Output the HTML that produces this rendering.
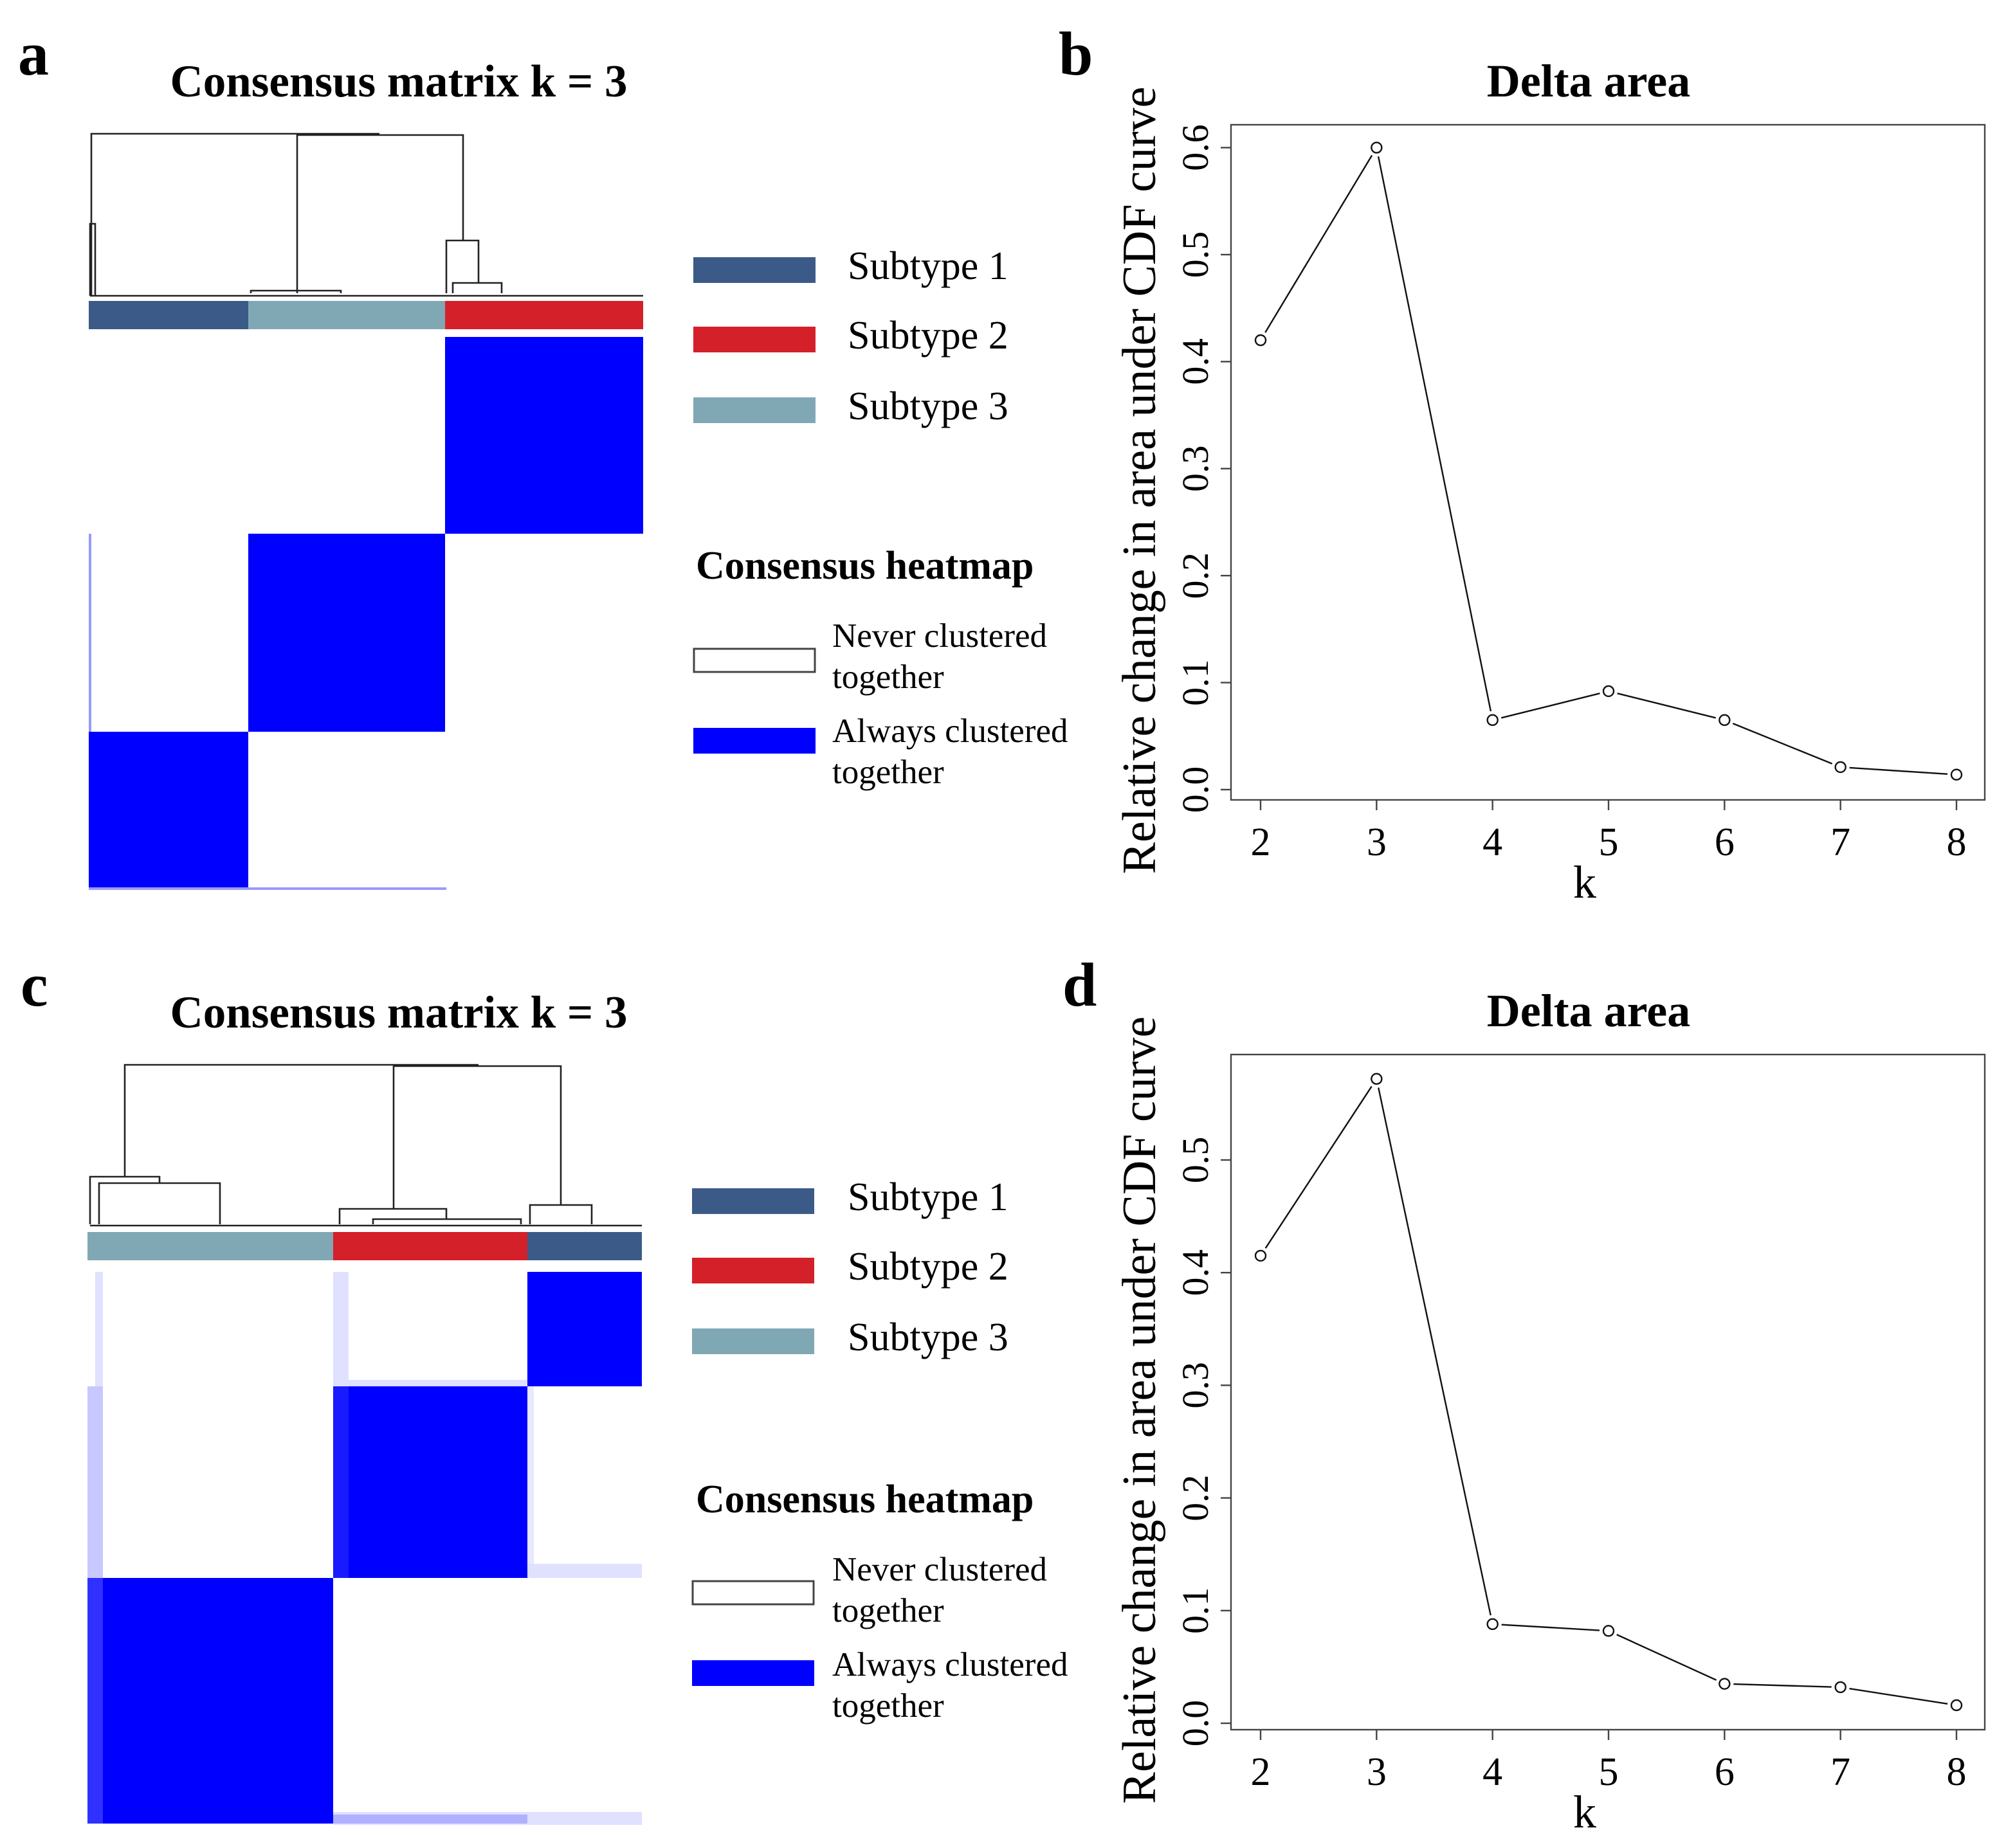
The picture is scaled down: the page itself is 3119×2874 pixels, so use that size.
<!DOCTYPE html>
<html><head><meta charset="utf-8"><style>
html,body{margin:0;padding:0;background:#fff}
svg{display:block}
text{font-family:"Liberation Serif",serif;fill:#000}
.b{font-weight:bold}
</style></head><body>
<svg id="fig" width="3119" height="2874" viewBox="0 0 1559.5 1437" xmlns="http://www.w3.org/2000/svg">
<text class="b" x="14" y="58" font-size="48">a</text>
<text class="b" x="823" y="58" font-size="48">b</text>
<text class="b" x="16" y="782" font-size="48">c</text>
<text class="b" x="826" y="782" font-size="48">d</text>

<!-- Panel a -->
<g>
<text class="b" x="310" y="75" font-size="35.5" text-anchor="middle">Consensus matrix k = 3</text>
<g fill="none" stroke="#222" stroke-width="1.3">
<path d="M71,230 V104 H295"/><path d="M231,228 V105 H360 V187"/>
<path d="M70,230 V174 H74 V230"/>
<path d="M347,228 V187 H372 V220"/><path d="M352,228 V220 H390 V228"/>
<path d="M195,228 V226 H265 V228"/><path d="M70,230 H500"/>
</g>
<rect x="69" y="234" width="124" height="22" fill="#3c5a87"/>
<rect x="193" y="234" width="153" height="22" fill="#80a8b4"/>
<rect x="346" y="234" width="154" height="22" fill="#d42029"/>
<rect x="346" y="262" width="154" height="153" fill="#0000fe"/>
<rect x="193" y="415" width="153" height="154" fill="#0000fe"/>
<rect x="69" y="569" width="124" height="123" fill="#0000fe"/>
<rect x="69" y="415" width="2" height="154" fill="#9999ff"/>
<rect x="69" y="690" width="278" height="2" fill="#9999ff"/>
</g>

<!-- Legend a -->
<g>
<rect x="539" y="200" width="95" height="20" fill="#3c5a87"/>
<rect x="539" y="254" width="95" height="20" fill="#d42029"/>
<rect x="539" y="309" width="95" height="20" fill="#80a8b4"/>
<text x="659" y="217" font-size="31">Subtype 1</text>
<text x="659" y="271" font-size="31">Subtype 2</text>
<text x="659" y="326" font-size="31">Subtype 3</text>
<text class="b" x="541" y="450" font-size="31">Consensus heatmap</text>
<rect x="539.5" y="504.5" width="94" height="18" fill="#fff" stroke="#444" stroke-width="1.5"/>
<rect x="539" y="566" width="95" height="20" fill="#0000fe"/>
<text x="647" y="503" font-size="26.5">Never clustered</text>
<text x="647" y="535" font-size="26.5">together</text>
<text x="647" y="577" font-size="26.5">Always clustered</text>
<text x="647" y="609" font-size="26.5">together</text>
</g>

<!-- Panel c -->
<g>
<text class="b" x="310" y="799" font-size="35.5" text-anchor="middle">Consensus matrix k = 3</text>
<g fill="none" stroke="#222" stroke-width="1.3">
<path d="M97,915 V828 H372"/><path d="M306,940 V829 H436 V937"/>
<path d="M70,952 V915 H124 V920"/><path d="M77,952 V920 H171 V952"/>
<path d="M264,952 V940 H347 V948"/><path d="M290,952 V948 H405 V952"/>
<path d="M412,952 V937 H460 V952"/><path d="M70,953 H499"/>
</g>
<rect x="68" y="958" width="191" height="22" fill="#80a8b4"/>
<rect x="259" y="958" width="151" height="22" fill="#d42029"/>
<rect x="410" y="958" width="89" height="22" fill="#3c5a87"/>
<rect x="74" y="989" width="6" height="89" fill="#e0e0ff"/>
<rect x="259" y="989" width="12" height="89" fill="#e0e0ff"/>
<rect x="259" y="1073" width="151" height="5" fill="#e0e0ff"/>
<rect x="68" y="1078" width="12" height="149" fill="#c8c8ff"/>
<rect x="410" y="1078" width="5" height="149" fill="#e8e8ff"/>
<rect x="410" y="1216" width="89" height="11" fill="#e0e0ff"/>
<rect x="259" y="1409" width="240" height="10" fill="#e0e0ff"/>
<rect x="410" y="989" width="89" height="89" fill="#0000fe"/>
<rect x="259" y="1078" width="151" height="149" fill="#0000fe"/>
<rect x="259" y="1078" width="12" height="149" fill="#1a1aff"/>
<rect x="68" y="1227" width="191" height="191" fill="#0000fe"/>
<rect x="68" y="1227" width="12" height="191" fill="#3030ff"/>
<rect x="259" y="1411" width="151" height="7" fill="#b0b0ff"/>
</g>

<!-- Legend c -->
<g>
<rect x="538" y="924" width="95" height="20" fill="#3c5a87"/>
<rect x="538" y="978" width="95" height="20" fill="#d42029"/>
<rect x="538" y="1033" width="95" height="20" fill="#80a8b4"/>
<text x="659" y="941" font-size="31">Subtype 1</text>
<text x="659" y="995" font-size="31">Subtype 2</text>
<text x="659" y="1050" font-size="31">Subtype 3</text>
<text class="b" x="541" y="1176" font-size="31">Consensus heatmap</text>
<rect x="538.5" y="1229.5" width="94" height="18" fill="#fff" stroke="#444" stroke-width="1.5"/>
<rect x="538" y="1291" width="95" height="20" fill="#0000fe"/>
<text x="647" y="1229" font-size="26.5">Never clustered</text>
<text x="647" y="1261" font-size="26.5">together</text>
<text x="647" y="1303" font-size="26.5">Always clustered</text>
<text x="647" y="1335" font-size="26.5">together</text>
</g>

<g id="chartB"></g>
<g id="chartD"></g>
</svg>
<script>
const kValues = [2,3,4,5,6,7,8];
const deltaB = [0.42,0.60,0.065,0.092,0.065,0.021,0.014];
const deltaD = [0.415,0.572,0.088,0.082,0.035,0.032,0.016];
const ticksB = [0,0.1,0.2,0.3,0.4,0.5,0.6];
const ticksD = [0,0.1,0.2,0.3,0.4,0.5];
const NS='http://www.w3.org/2000/svg';
function mk(parent,tag,attrs,txt){const e=document.createElementNS(NS,tag);for(const k in attrs)e.setAttribute(k,attrs[k]);if(txt!==undefined)e.textContent=txt;parent.appendChild(e);return e;}
function draw(gid,vals,ticks,cfg){
  const g=document.getElementById(gid);
  const xs=k=>980+(k-2)*(1521-980)/6;
  const ys=v=>cfg.y0-v*cfg.per;
  const box=mk(g,'rect',{x:957,y:cfg.top,width:586,height:cfg.bottom-cfg.top,fill:'none',stroke:'#444','stroke-width':1.2});
  
  
  const t=mk(g,'text',{x:1235,y:cfg.top-22,'font-size':36,'text-anchor':'middle','font-weight':'bold'},'Delta area');
  
  
  ticks.forEach(v=>{
    mk(g,'line',{x1:949,x2:957,y1:ys(v),y2:ys(v),stroke:'#444','stroke-width':1.2});
    const l=mk(g,'text',{x:0,y:0,'font-size':29,'text-anchor':'middle',transform:`translate(939,${ys(v)}) rotate(-90)`},v.toFixed(1));
    
    
  });
  kValues.forEach(k=>{
    mk(g,'line',{x1:xs(k),x2:xs(k),y1:cfg.bottom,y2:cfg.bottom+8,stroke:'#444','stroke-width':1.2});
    const l=mk(g,'text',{x:xs(k),y:cfg.bottom+43,'font-size':31,'text-anchor':'middle'},String(k));
    
    
  });
  const xl=mk(g,'text',{x:1232,y:cfg.bottom+76,'font-size':36,'text-anchor':'middle'},'k');
  
  
  const yl=mk(g,'text',{x:0,y:0,'font-size':37,'text-anchor':'middle',transform:`translate(898,${(cfg.top+cfg.bottom)/2+14}) rotate(-90)`},'Relative change in area under CDF curve');
  
  
  for(let i=0;i<vals.length-1;i++){
    const x1=xs(kValues[i]),y1=ys(vals[i]),x2=xs(kValues[i+1]),y2=ys(vals[i+1]);
    const d=Math.hypot(x2-x1,y2-y1),ux=(x2-x1)/d,uy=(y2-y1)/d,r=7;
    const s=mk(g,'line',{x1:x1+ux*r,y1:y1+uy*r,x2:x2-ux*r,y2:y2-uy*r,stroke:'#111','stroke-width':1.2});
    
    
  }
  vals.forEach((v,i)=>{
    const c=mk(g,'circle',{cx:xs(kValues[i]),cy:ys(v),r:4,fill:'#fff',stroke:'#111','stroke-width':1.2});
    
    
  });
}
draw('chartB',deltaB,ticksB,{top:97,bottom:622,y0:614,per:832});
draw('chartD',deltaD,ticksD,{top:820,bottom:1345,y0:1340,per:876});
</script>
</body></html>
